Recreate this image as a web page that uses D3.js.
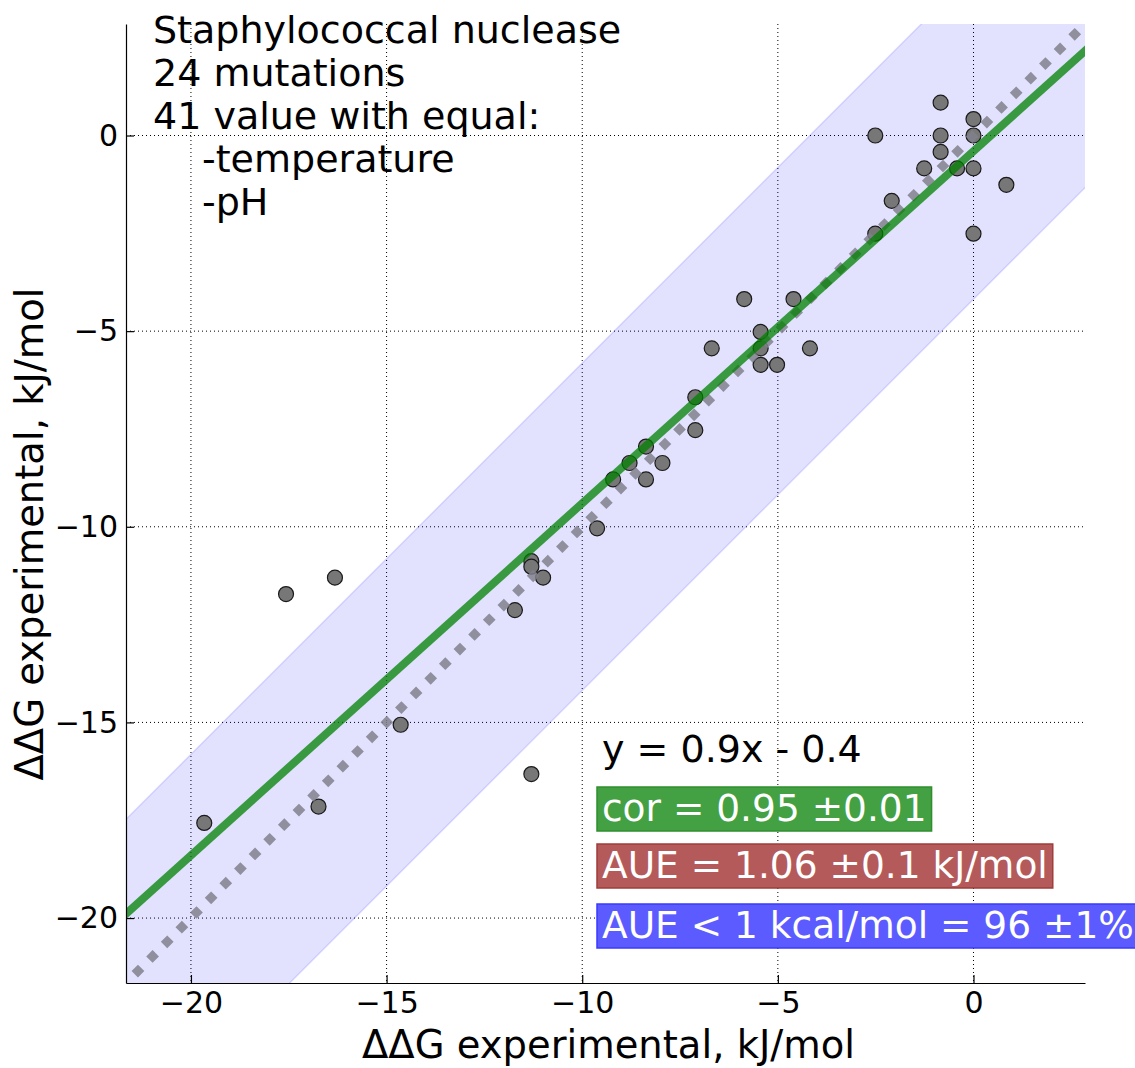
<!DOCTYPE html>
<html>
<head>
<meta charset="utf-8">
<script src="https://cdn.jsdelivr.net/npm/d3@7"></script>
<style>
  body { margin: 0; background: #fff; }
  text { font-family: "DejaVu Sans", sans-serif; }
</style>
</head>
<body>
<div id="chart"></div>
<script>
var svgWidth = 1135;
var svgHeight = 1068;

var margin = { top: 24, right: 50, bottom: 85, left: 126 };
var width = 1085 - margin.left;
var height = 983 - margin.top;

// data (kJ/mol)
var expValues = [-2.51, -0.84, -0.84, -0.84, 0, 0, -1.26, -0.42, 0, 0.84,
  -2.09, -2.51, 0, -5.86, -4.60, -5.44, -6.69, -5.44, -4.18, -5.44,
  -5.02, -7.11, -7.11, -8.37, -8.79, -7.95, -9.21, -8.37, -9.62, -11.30,
  -11.30, -11.00, -11.72, -16.32, -17.57, -14.64, -11.30, -16.74, -19.66];
var calcValues = [0, 0.84, 0, -0.42, 0.42, 0, -0.84, -0.84, -0.84, -1.26,
  -1.67, -2.51, -2.51, -4.18, -4.18, -5.02, -5.44, -5.44, -5.44, -5.86,
  -5.86, -6.69, -7.53, -7.95, -8.37, -8.37, -8.79, -8.79, -10.04, -10.88,
  -11.02, -11.30, -12.13, -11.30, -11.72, -15.06, -16.32, -17.15, -17.57];
var axisDomain = [-21.66, 2.85];
var tickValues = [-20, -15, -10, -5, 0];
var fitSlope = 0.9;
var fitIntercept = -0.4;
var kcal = 4.184;

var infoLines = ["Staphylococcal nuclease", "24 mutations", "41 value with equal:", "-temperature", "-pH"];
var statLabels = ["cor = 0.95 \u00b10.01", "AUE = 1.06 \u00b10.1 kJ/mol", "AUE < 1 kcal/mol = 96 \u00b11%"];
var statFills = ["#43a143", "#b45a5a", "#5b5bff"];
var statEdges = ["#2f8f2f", "#a03c3c", "#3a3aff"];

var points = expValues.map(function(v, i) { return { x: v, y: calcValues[i] }; });

var svg = d3.select("#chart")
  .append("svg")
  .attr("width", svgWidth)
  .attr("height", svgHeight);

var chartGroup = svg.append("g")
  .attr("transform", `translate(${margin.left}, ${margin.top})`);

var xScale = d3.scaleLinear().domain(axisDomain).range([0, width]);
var yScale = d3.scaleLinear().domain(axisDomain).range([height, 0]);

svg.append("defs").append("clipPath")
  .attr("id", "plotClip")
  .append("rect")
  .attr("width", width)
  .attr("height", height);

// grid
chartGroup.append("g").selectAll("line.gx")
  .data(tickValues).enter().append("line")
  .attr("x1", d => xScale(d)).attr("x2", d => xScale(d))
  .attr("y1", 0).attr("y2", height)
  .attr("stroke", "#000").attr("stroke-width", 1)
  .attr("stroke-dasharray", "1,3");
chartGroup.append("g").selectAll("line.gy")
  .data(tickValues).enter().append("line")
  .attr("y1", d => yScale(d)).attr("y2", d => yScale(d))
  .attr("x1", 0).attr("x2", width)
  .attr("stroke", "#000").attr("stroke-width", 1)
  .attr("stroke-dasharray", "1,3");

var plot = chartGroup.append("g").attr("clip-path", "url(#plotClip)");

// +-1 kcal/mol band around y = x
var bandX = [axisDomain[0] - 6, axisDomain[1] + 6];
var band = d3.area()
  .x(d => xScale(d))
  .y0(d => yScale(d - kcal))
  .y1(d => yScale(d + kcal));
plot.append("path")
  .datum(bandX)
  .attr("d", band)
  .attr("fill", "#0000ff")
  .attr("fill-opacity", 0.115)
  .attr("stroke", "none");
[kcal, -kcal].forEach(function(off) {
  plot.append("line")
    .attr("x1", xScale(bandX[0])).attr("y1", yScale(bandX[0] + off))
    .attr("x2", xScale(bandX[1])).attr("y2", yScale(bandX[1] + off))
    .attr("stroke", "#0000ff").attr("stroke-opacity", 0.13).attr("stroke-width", 1.5);
});

// points
plot.selectAll("circle")
  .data(points)
  .enter()
  .append("circle")
  .attr("cx", d => xScale(d.x))
  .attr("cy", d => yScale(d.y))
  .attr("r", 7.5)
  .attr("fill", "#777777")
  .attr("stroke", "#1a1a1a")
  .attr("stroke-width", 1.2);

// y = x dotted
var line = d3.line().x(d => xScale(d[0])).y(d => yScale(d[1]));
plot.append("path")
  .datum([[axisDomain[0] - 0.15, axisDomain[0] - 0.15], [axisDomain[1] + 1, axisDomain[1] + 1]])
  .attr("d", line)
  .attr("fill", "none")
  .attr("stroke", "#80808c")
  .attr("stroke-opacity", 0.85)
  .attr("stroke-width", 9)
  .attr("stroke-dasharray", "9,11.7");

// fit line
plot.append("path")
  .datum(bandX.map(x => [x, fitSlope * x + fitIntercept]))
  .attr("d", line)
  .attr("fill", "none")
  .attr("stroke", "#008000")
  .attr("stroke-opacity", 0.75)
  .attr("stroke-width", 8);

// axes
var leftAxis = d3.axisLeft(yScale).tickValues(tickValues)
  .tickSizeInner(-8).tickSizeOuter(0).tickPadding(8);
var bottomAxis = d3.axisBottom(xScale).tickValues(tickValues)
  .tickSizeInner(-8).tickSizeOuter(0).tickPadding(9);

var yAxis = chartGroup.append("g").call(leftAxis);
var xAxis = chartGroup.append("g")
  .attr("transform", `translate(0, ${height})`)
  .call(bottomAxis);

[xAxis, yAxis].forEach(function(ax) {
  ax.selectAll("text")
    .style("font-family", "DejaVu Sans")
    .style("font-size", "30px")
    .attr("fill", "#000");
  ax.select(".domain").attr("stroke", "#000").attr("stroke-width", 1.2);
  ax.selectAll(".tick line").attr("stroke", "#000").attr("stroke-width", 1.2);
});

// axis labels
svg.append("text")
  .attr("x", margin.left + width / 2 + 3)
  .attr("y", 1058)
  .attr("text-anchor", "middle")
  .style("font-size", "38.5px")
  .text("\u0394\u0394G experimental, kJ/mol");

svg.append("text")
  .attr("transform", `translate(43, 534) rotate(-90)`)
  .attr("text-anchor", "middle")
  .style("font-size", "38.5px")
  .text("\u0394\u0394G experimental, kJ/mol");

// info text top left
svg.append("g").selectAll("text")
  .data(infoLines)
  .enter()
  .append("text")
  .attr("x", (d, i) => i < 3 ? 153 : 202)
  .attr("y", (d, i) => 43 + i * 43)
  .style("font-size", "38px")
  .attr("fill", "#000")
  .text(d => d);

// fit equation
svg.append("text")
  .attr("x", 602)
  .attr("y", 762)
  .style("font-size", "38px")
  .text("y = " + fitSlope + "x - " + Math.abs(fitIntercept));

// stat boxes
var statBaselines = [821, 878, 938];
statLabels.forEach(function(label, i) {
  var g = svg.append("g");
  var rect = g.append("rect");
  var t = g.append("text")
    .attr("x", 602)
    .attr("y", statBaselines[i])
    .style("font-size", "37.5px")
    .attr("fill", "#fff")
    .text(label);
  var bb = t.node().getBBox();
  rect.attr("x", bb.x - 5)
    .attr("y", bb.y + 1)
    .attr("width", bb.width + 10)
    .attr("height", bb.height)
    .attr("fill", statFills[i])
    .attr("stroke", statEdges[i])
    .attr("stroke-width", 1.5);
});
</script>
</body>
</html>
